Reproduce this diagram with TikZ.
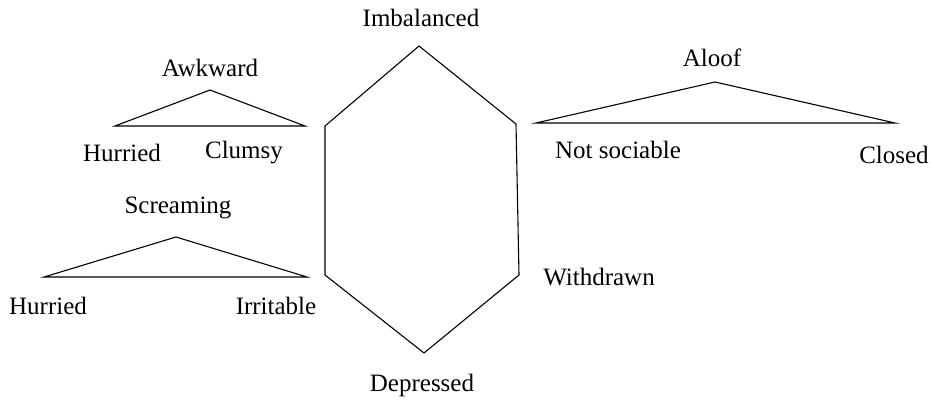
\documentclass[tikz,border=0pt]{standalone}
\usepackage{fontspec}
\setmainfont{Liberation Serif}
\usepackage{tikz}
\def\dtri{\draw[line width=1.1pt]}
\tikzset{lbl/.style={inner sep=0pt,font=\fontsize{25}{28}\selectfont}}

\begin{document}
\begin{tikzpicture}[x=1pt,y=-1pt]
                \useasboundingbox (0,0) rectangle (933,403);
                % awkward
                \dtri (115,126) -- (210,90) -- (305,126) -- cycle;
                \node[lbl] (awk)  at (210,68)  {Awkward};
                \node[lbl] (hur1) at (122,153) {Hurried};
                \node[lbl] (clu)  at (244,153) {Clumsy};
                % screaming
                \dtri (44,277) -- (176,237) -- (307,277) -- cycle;
                \node[lbl] (scr)  at (178,208) {Screaming};
                \node[lbl] (hur2) at (48,306)  {Hurried};
                \node[lbl] (irr)  at (276,306) {Irritable};
                % hexagon
                \dtri (419,46) -- (516,124) -- (519,275) -- (424,353) -- (325,275) -- (325,126) -- cycle;
                \node[lbl] (imb)  at (421,18)  {Imbalanced};
                \node[lbl] (dep)  at (422,385) {Depressed};
                \node[lbl] (wit)  at (599,277) {Withdrawn};
                % aloof
                \dtri (536,123) -- (715,82) -- (895,123) -- cycle;
                \node[lbl] (alo)  at (712,58)  {Aloof};
                \node[lbl] (nso)  at (618,150) {Not sociable};
                \node[lbl] (clo)  at (894,155) {Closed};
            \end{tikzpicture}
\end{document}
